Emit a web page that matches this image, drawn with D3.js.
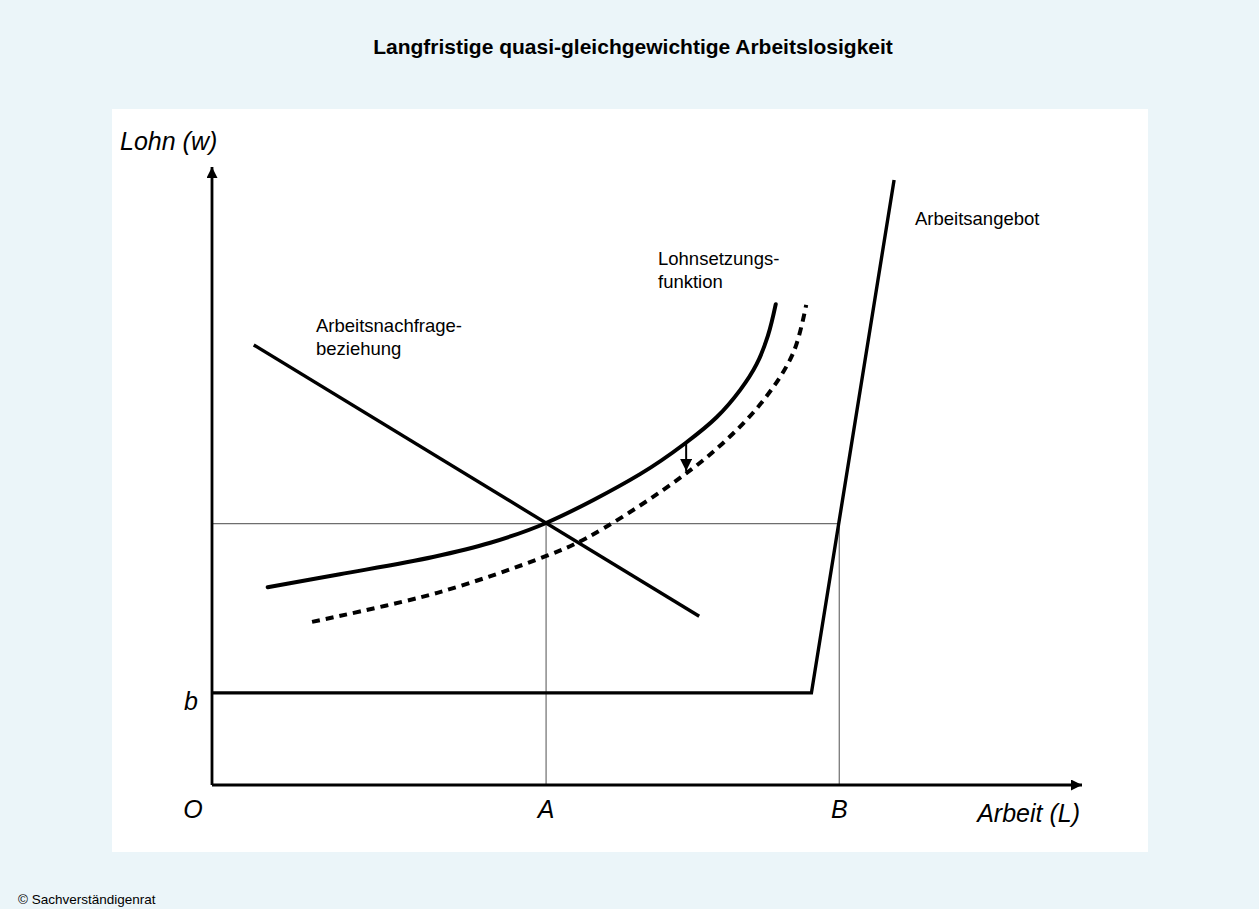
<!DOCTYPE html>
<html lang="de">
<head>
<meta charset="UTF-8">
<title>Langfristige quasi-gleichgewichtige Arbeitslosigkeit</title>
<script src="https://d3js.org/d3.v7.min.js"></script>
<style>
  body { margin: 0; background: #ebf5f9; }
  text { font-family: "Liberation Sans", Arial, Helvetica, sans-serif; fill: #000; }
</style>
</head>
<body>
<div id="chart"></div>
<script>
// Values (abstract units, 0..100 on both axes)
const demandX = [4.8, 56.0];
const demandY = [71.2, 27.3];

const supplyX = [0, 68.9, 78.4];
const supplyY = [14.9, 14.9, 97.9];

const wageSetX = [6.4, 14.7, 25.4, 32.0, 38.4, 49.2, 54.4, 58.0, 60.7, 62.6, 63.9, 64.8];
const wageSetY = [32.0, 34.1, 36.9, 39.2, 42.4, 50.3, 55.3, 59.5, 63.9, 68.1, 72.7, 77.8];

const wageSetNewX = [11.5, 25.9, 38.5, 43.1, 51.5, 58.0, 63.3, 66.8, 68.3];
const wageSetNewY = [26.4, 31.1, 37.1, 40.0, 47.4, 54.4, 62.1, 69.9, 77.7];

const pointA = 38.4;
const pointB = 72.1;
const wageEq = 42.3;
const benefit = 14.9;

const shiftX = 54.5;
const shiftFrom = 55.2;
const shiftTo = 50.8;

const xTickVals = [0, pointA, pointB];
const xTickLabels = ["O", "A", "B"];

const width = 1259, height = 909;

const svg = d3.select("#chart").append("svg")
    .attr("width", width)
    .attr("height", height);

// Background and white panel
svg.append("rect").attr("width", width).attr("height", height).attr("fill", "#ebf5f9");
svg.append("rect")
    .attr("x", 112).attr("y", 109)
    .attr("width", 1036).attr("height", 743)
    .attr("fill", "#fff");

// Title
svg.append("text")
    .attr("x", 633).attr("y", 54)
    .attr("text-anchor", "middle")
    .style("font-size", "21px")
    .style("font-weight", "bold")
    .text("Langfristige quasi-gleichgewichtige Arbeitslosigkeit");

// Copyright
svg.append("text")
    .attr("x", 18).attr("y", 904)
    .style("font-size", "13.5px")
    .text("© Sachverständigenrat");

// Scales
const x = d3.scaleLinear().domain([0, 100]).range([212, 1082]);
const y = d3.scaleLinear().domain([0, 100]).range([785, 167]);

// Arrow markers
const defs = svg.append("defs");
defs.append("marker")
    .attr("id", "axisArrow")
    .attr("viewBox", "0 0 10 10")
    .attr("refX", 10).attr("refY", 5)
    .attr("markerUnits", "userSpaceOnUse")
    .attr("markerWidth", 14).attr("markerHeight", 11)
    .attr("orient", "auto")
    .append("path").attr("d", "M0,0 L10,5 L0,10 Z").attr("fill", "#000");
defs.append("marker")
    .attr("id", "shiftArrow")
    .attr("viewBox", "0 0 10 10")
    .attr("refX", 10).attr("refY", 5)
    .attr("markerUnits", "userSpaceOnUse")
    .attr("markerWidth", 14).attr("markerHeight", 12)
    .attr("orient", "auto")
    .append("path").attr("d", "M0,0 L10,5 L0,10 Z").attr("fill", "#000");

// Thin guide lines
const guide = svg.append("g").attr("stroke", "#6e6e6e").attr("stroke-width", 1.2);
guide.append("line")
    .attr("x1", x(0)).attr("x2", x(pointB))
    .attr("y1", y(wageEq)).attr("y2", y(wageEq));
guide.selectAll("line.v")
    .data([pointA, pointB])
    .enter().append("line")
    .attr("class", "v")
    .attr("x1", d => x(d)).attr("x2", d => x(d))
    .attr("y1", y(0)).attr("y2", y(wageEq));

// Axes
svg.append("line")
    .attr("x1", x(0)).attr("y1", y(0))
    .attr("x2", x(0)).attr("y2", y(100))
    .attr("stroke", "#000").attr("stroke-width", 2.8)
    .attr("marker-end", "url(#axisArrow)");
svg.append("line")
    .attr("x1", x(0)).attr("y1", y(0))
    .attr("x2", x(100)).attr("y2", y(0))
    .attr("stroke", "#000").attr("stroke-width", 2.8)
    .attr("marker-end", "url(#axisArrow)");

// Curves
const toPts = (xs, ys) => xs.map((d, i) => [d, ys[i]]);
const straight = d3.line().x(d => x(d[0])).y(d => y(d[1]));
const smooth = d3.line().x(d => x(d[0])).y(d => y(d[1])).curve(d3.curveCatmullRom.alpha(0.5));

svg.append("path")
    .attr("d", straight(toPts(supplyX, supplyY)))
    .attr("fill", "none").attr("stroke", "#000").attr("stroke-width", 3.4)
    .attr("stroke-linejoin", "miter");

svg.append("path")
    .attr("d", straight(toPts(demandX, demandY)))
    .attr("fill", "none").attr("stroke", "#000").attr("stroke-width", 3.4);

svg.append("path")
    .attr("d", smooth(toPts(wageSetX, wageSetY)))
    .attr("fill", "none").attr("stroke", "#000").attr("stroke-width", 4)
    .attr("stroke-linecap", "round");

svg.append("path")
    .attr("d", smooth(toPts(wageSetNewX, wageSetNewY)))
    .attr("fill", "none").attr("stroke", "#000").attr("stroke-width", 4)
    .attr("stroke-dasharray", "8,6");

// Shift arrow
svg.append("line")
    .attr("x1", x(shiftX)).attr("x2", x(shiftX))
    .attr("y1", y(shiftFrom)).attr("y2", y(shiftTo))
    .attr("stroke", "#000").attr("stroke-width", 2)
    .attr("marker-end", "url(#shiftArrow)");

// Axis labels
svg.append("text")
    .attr("x", 120).attr("y", 150)
    .style("font-size", "25px").style("font-style", "italic")
    .text("Lohn (w)");
svg.append("text")
    .attr("x", 1080).attr("y", 822)
    .attr("text-anchor", "end")
    .style("font-size", "25px").style("font-style", "italic")
    .text("Arbeit (L)");

svg.selectAll("text.xtick")
    .data(xTickVals)
    .enter().append("text")
    .attr("class", "xtick")
    .attr("x", (d, i) => i === 0 ? x(d) - 19 : x(d))
    .attr("y", 818)
    .attr("text-anchor", "middle")
    .style("font-size", "25px").style("font-style", "italic")
    .text((d, i) => xTickLabels[i]);

svg.append("text")
    .attr("x", x(0) - 21).attr("y", y(benefit) + 17)
    .attr("text-anchor", "middle")
    .style("font-size", "25px").style("font-style", "italic")
    .text("b");

// Curve labels
function multiLine(xp, yp, lines) {
    const t = svg.append("text").attr("x", xp).attr("y", yp).style("font-size", "18.5px");
    lines.forEach((s, i) => t.append("tspan").attr("x", xp).attr("dy", i === 0 ? 0 : 23).text(s));
}
multiLine(316, 332, ["Arbeitsnachfrage-", "beziehung"]);
multiLine(658, 265, ["Lohnsetzungs-", "funktion"]);
multiLine(915, 225, ["Arbeitsangebot"]);
</script>
</body>
</html>
